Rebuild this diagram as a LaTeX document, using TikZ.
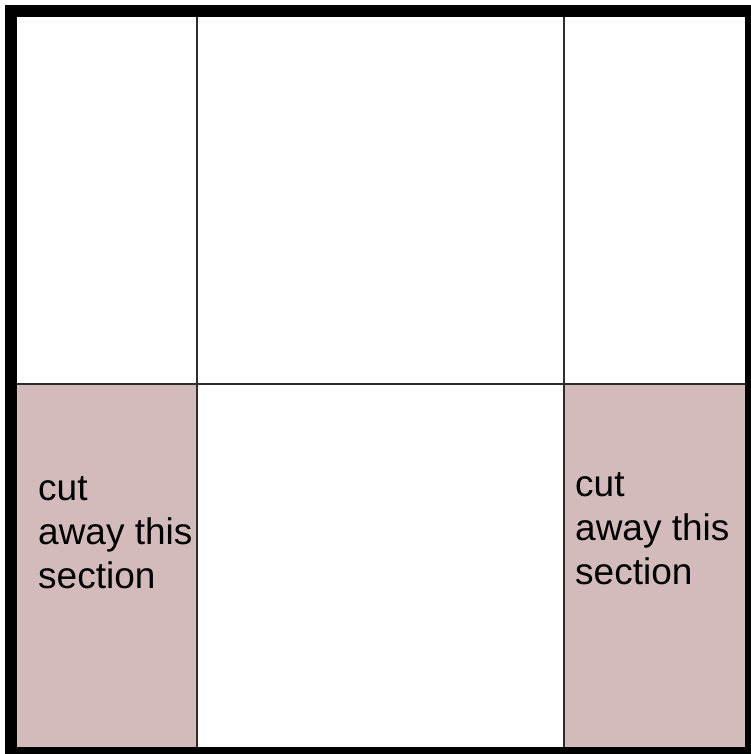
\documentclass[tikz,border=0pt]{standalone}
\usepackage{fontspec}
\setmainfont{Liberation Sans}
\usepackage{xcolor}
\usepackage{tikz}
\definecolor{cutpink}{RGB}{211,187,188}
\definecolor{gridgray}{RGB}{45,45,45}
\tikzset{
frameline/.style={draw=black,line width=12pt},
gridline/.style={draw=gridgray,line width=2pt},
cutzone/.style={fill=cutpink,draw=none},
cutlabel/.style={anchor=north west,align=left,inner sep=0pt,font=\fontsize{37}{44}\selectfont}
}
\begin{document}
\begin{tikzpicture}[
x=1pt,
y=-1pt
]
\useasboundingbox (0,0) rectangle (750,754);
% shaded sections
\fill[cutzone] (17,384) rectangle (197,747);
\fill[cutzone] (564,384) rectangle (745,747);
% grid
\draw[gridline] (197,17) -- (197,747);
\draw[gridline] (564,17) -- (564,747);
\draw[gridline] (17,384) -- (745,384);
% outer frame
\draw[frameline] (11,11) rectangle (751,753);
% labels
\node[cutlabel] (leftcut) at (38,476) {cut\\away this\\section};
\node[cutlabel] (rightcut) at (575,472) {cut\\away this\\section};
\end{tikzpicture}
\end{document}
